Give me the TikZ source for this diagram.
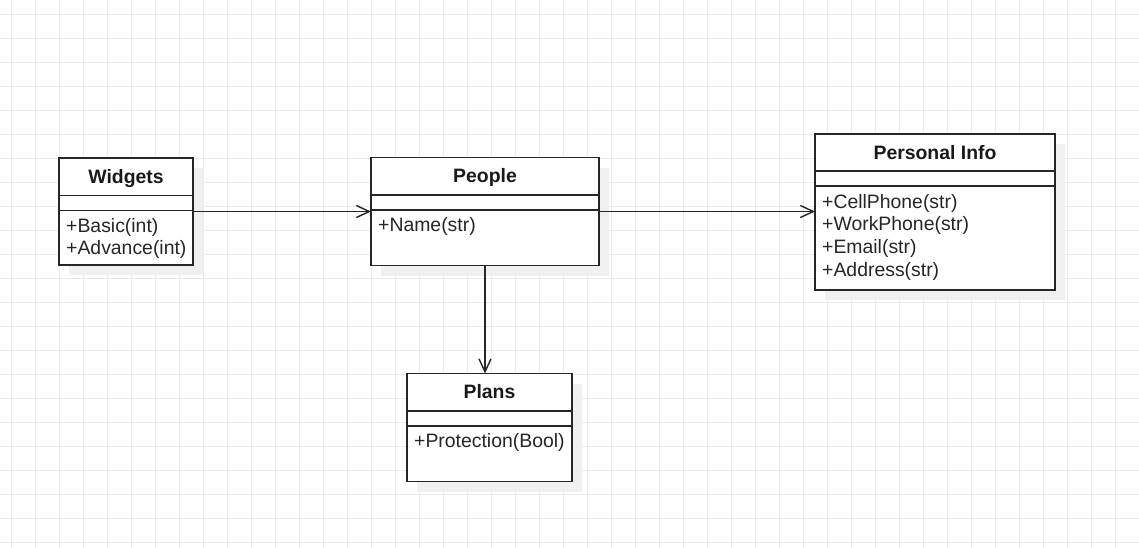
\documentclass[tikz,border=0pt]{standalone}
\usepackage{fontspec}
\setmainfont{Liberation Sans}
\usetikzlibrary{arrows.meta,shadows}
\tikzset{
	gridline/.style={draw=black!8, line width=1pt},
	classbox/.style={draw=black!85, line width=1.3pt, fill=white, inner sep=0pt, outer sep=0pt,
		drop shadow={opacity=1, fill=black!6, shadow xshift=10pt, shadow yshift=-10pt}},
	divider/.style={draw=black!85, line width=1.3pt},
	classname/.style={anchor=base, inner sep=0pt, text=black!90, font=\fontsize{19.4pt}{23.3pt}\selectfont\bfseries},
	attr/.style={anchor=base west, inner sep=0pt, text=black!85, font=\fontsize{19.4pt}{23.3pt}\selectfont},
	assoc/.style={draw=black!85, line width=1.4pt, -{Straight Barb[length=13pt,width=12pt]}},
}
\begin{document}
\begin{tikzpicture}[x=1pt, y=-1pt]
	\useasboundingbox (0,0) rectangle (1139,547);
	\fill[white] (0,0) rectangle (1139,547);
	\begin{scope}[y=1pt]
		\draw[gridline, shift={(11.3,-14.3)}, step=24] (-24,-552) grid (1140,24);
	\end{scope}
	% widgets
	\node[classbox, minimum width=134pt, minimum height=107pt] (widgets) at (126,211.5) {};
	\node[classname] (widgets-name) at ([yshift=-25.2pt]widgets.north) {Widgets};
	\draw[divider] ([yshift=-37.5pt]widgets.north west) -- ([yshift=-37.5pt]widgets.north east);
	\draw[divider] ([yshift=-52.5pt]widgets.north west) -- ([yshift=-52.5pt]widgets.north east);
	\foreach \a [count=\i] in {+Basic(int),+Advance(int)}
		\node[attr] (widgets-\i) at ([xshift=7pt,yshift={-74.2pt-22.7pt*(\i-1)}]widgets.north west) {\a};
	% people
	\node[classbox, minimum width=228pt, minimum height=108pt] (people) at (485,211.5) {};
	\node[classname] (people-name) at ([yshift=-25.2pt]people.north) {People};
	\draw[divider] ([yshift=-37.5pt]people.north west) -- ([yshift=-37.5pt]people.north east);
	\draw[divider] ([yshift=-52.5pt]people.north west) -- ([yshift=-52.5pt]people.north east);
	\node[attr] (people-1) at ([xshift=7pt,yshift=-74.2pt]people.north west) {+Name(str)};
	% personal info
	\node[classbox, minimum width=240pt, minimum height=156pt] (info) at (935,212) {};
	\node[classname] (info-name) at ([yshift=-25.2pt]info.north) {Personal Info};
	\draw[divider] ([yshift=-37pt]info.north west) -- ([yshift=-37pt]info.north east);
	\draw[divider] ([yshift=-52pt]info.north west) -- ([yshift=-52pt]info.north east);
	\foreach \a [count=\i] in {+CellPhone(str),+WorkPhone(str),+Email(str),+Address(str)}
		\node[attr] (info-\i) at ([xshift=7pt,yshift={-74.2pt-22.7pt*(\i-1)}]info.north west) {\a};
	% plans
	\node[classbox, minimum width=165pt, minimum height=108pt] (plans) at (489.5,427.5) {};
	\node[classname] (plans-name) at ([yshift=-25.2pt]plans.north) {Plans};
	\draw[divider] ([yshift=-37.5pt]plans.north west) -- ([yshift=-37.5pt]plans.north east);
	\draw[divider] ([yshift=-52.5pt]plans.north west) -- ([yshift=-52.5pt]plans.north east);
	\node[attr] (plans-1) at ([xshift=7pt,yshift=-74.2pt]plans.north west) {+Protection(Bool)};
	% associations
	\draw[assoc] (widgets.east) -- (people.west);
	\draw[assoc] (people.east) -- (people.east -| info.west);
	\draw[assoc] (people.south) -- (people.south |- plans.north);
\end{tikzpicture}
\end{document}
